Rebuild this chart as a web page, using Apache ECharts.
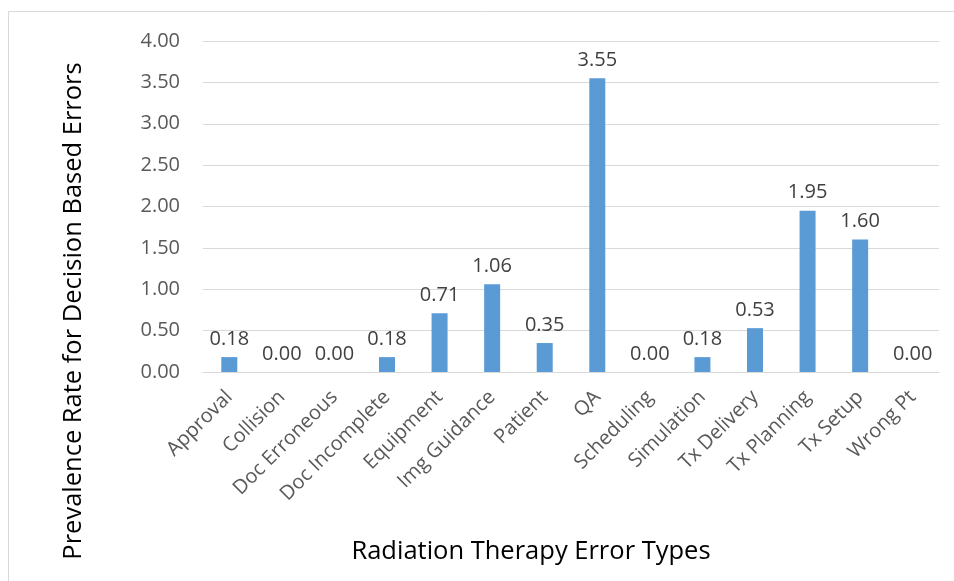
<!DOCTYPE html>
<html><head><meta charset="utf-8">
<script src="https://cdn.jsdelivr.net/npm/echarts@6/dist/echarts.min.js"></script>
<style>html,body{margin:0;padding:0;background:#fff}#c{width:954px;height:581px}</style>
</head><body><div id="c"></div>
<script>
const categories = ["Approval","Collision","Doc Erroneous","Doc Incomplete","Equipment","Img Guidance","Patient","QA","Scheduling","Simulation","Tx Delivery","Tx Planning","Tx Setup","Wrong Pt"];
const values = [0.18,0.00,0.00,0.18,0.71,1.06,0.35,3.55,0.00,0.18,0.53,1.95,1.60,0.00];
const xTitle = "Radiation Therapy Error Types";
const yTitle = "Prevalence Rate for Decision Based Errors";
const FONT = "Open Sans";
const chart = echarts.init(document.getElementById('c'));
chart.setOption({
  animation:false,
  textStyle:{fontFamily:FONT},
  graphic:[
    {type:'rect',shape:{x:8.5,y:11.5,width:1000,height:700},style:{fill:'none',stroke:'#d9d9d9',lineWidth:1},silent:true},
    {type:'text',x:74,y:311,rotation:Math.PI/2,style:{text:yTitle,fontSize:25.5,fontFamily:FONT,fill:'#000',textAlign:'center',textVerticalAlign:'middle'},silent:true},
    {type:'text',x:531,y:552,style:{text:xTitle,fontSize:25.5,fontFamily:FONT,fill:'#000',textAlign:'center',textVerticalAlign:'middle'},silent:true}
  ],
  grid:{left:203,right:15,top:41,bottom:209,containLabel:false},
  xAxis:{type:'category',data:categories,
    axisLine:{lineStyle:{color:'#d9d9d9',width:1}},axisTick:{show:false},
    axisLabel:{rotate:45,color:'#595959',fontSize:20,fontFamily:FONT,margin:22,interval:0}},
  yAxis:{type:'value',min:0,max:4,interval:0.5,
    axisLine:{show:false},axisTick:{show:false},
    splitLine:{lineStyle:{color:'#d9d9d9',width:1}},
    axisLabel:{formatter:v=>v.toFixed(2),color:'#595959',fontSize:20,fontFamily:FONT,margin:23}},
  series:[{type:'bar',data:values,barWidth:16,itemStyle:{color:'#5B9BD5'},
    label:{show:true,position:'top',distance:8,formatter:p=>p.value.toFixed(2),color:'#404040',fontSize:20,fontFamily:FONT}}]
});
</script></body></html>
